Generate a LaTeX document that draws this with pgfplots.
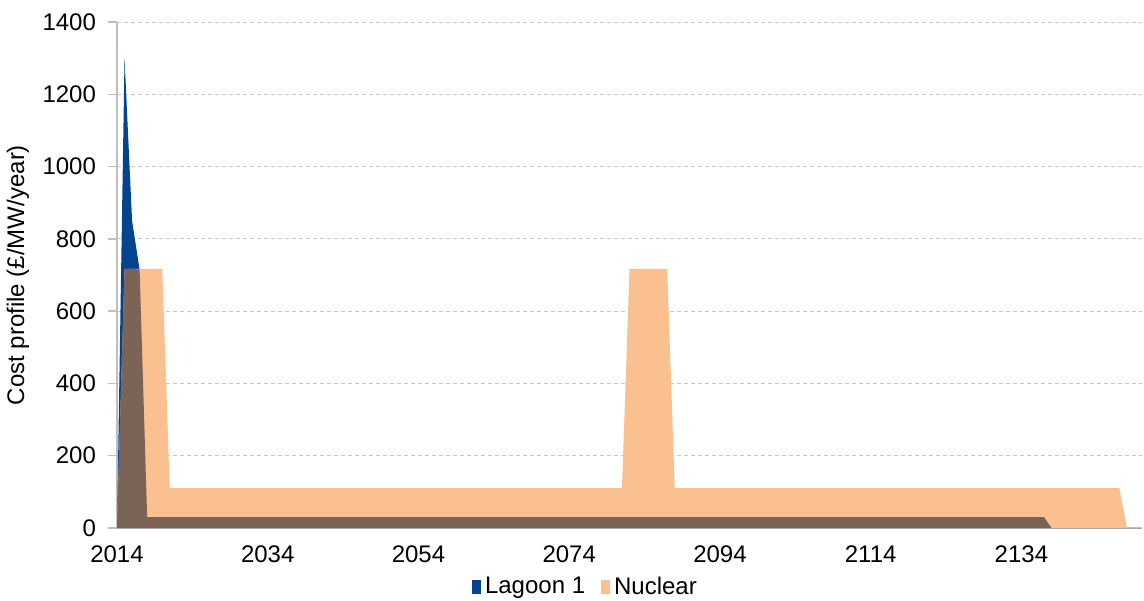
\documentclass[border=0pt]{standalone}
\usepackage{pgfplots}
\pgfplotsset{compat=1.18}
\usepackage{fontspec}
\setmainfont{Liberation Sans}
\definecolor{lagoon}{RGB}{3,68,143}
\definecolor{nuclear}{RGB}{250,192,144}
\definecolor{overlap}{RGB}{123,100,85}
\definecolor{axisgray}{RGB}{191,191,191}
\definecolor{gridgray}{RGB}{200,200,200}
\begin{document}
\begin{tikzpicture}
\path[use as bounding box] (-58.5pt,-36pt) rectangle (513.5pt,264pt);
\begin{axis}[
  at={(0pt,0pt)}, anchor=south west,
  scale only axis, width=512.5pt, height=253pt,
  xmin=2014, xmax=2150, ymin=0, ymax=1400,
  xtick={2014,2034,2054,2074,2094,2114,2134},
  ytick={0,200,400,600,800,1000,1200,1400},
  axis x line*=bottom, axis y line*=left,
  axis line style={draw=axisgray, line width=0.75pt},
  x axis line style={-}, y axis line style={-},
  ymajorgrids,
  major grid style={draw=gridgray, line width=0.5pt, dash pattern=on 2pt off 1.5pt},
  xtick style={draw=none},
  ytick style={draw=axisgray, line width=0.75pt},
  tick align=outside, major tick length=4.5pt,
  /pgf/number format/assume math mode=true,
  /pgf/number format/1000 sep={},
  tick label style={font=\fontsize{12}{14}\selectfont},
  xticklabel style={anchor=center, yshift=-8.5pt},
  yticklabel style={anchor=east, xshift=-2.5pt},
  ylabel={Cost profile (£/MW/year)},
  ylabel style={font=\fontsize{12}{14}\selectfont, at={(axis description cs:-0.0966,0.5)}, anchor=center, rotate=0},
  legend style={at={(axis description cs:0.458,-0.117)}, anchor=center, draw=none, fill=none,
    font=\fontsize{12}{14}\selectfont, legend columns=2,
    /tikz/every even column/.append style={column sep=6pt},
    inner sep=0pt, row sep=0pt},
  legend cell align=left,
]
\addplot[fill=lagoon, draw=none,
  legend image code/.code={\fill[lagoon] (0pt,-3.5pt) rectangle (4.5pt,3.5pt);}]
  coordinates {(2014,0) (2015,1300) (2016,850) (2017,715) (2018,30) (2137,30) (2138,0) (2150,0)} \closedcycle;
\addlegendentry{Lagoon 1}
\addplot[fill=nuclear, draw=none,
  legend image code/.code={\fill[nuclear] (0pt,-3.5pt) rectangle (4.5pt,3.5pt);}]
  coordinates {(2014,0) (2015,717) (2020,717) (2021,110) (2081,110) (2082,717) (2087,717) (2088,110) (2147,110) (2148,0) (2150,0)} \closedcycle;
\addlegendentry{Nuclear}
\addplot[fill=overlap, draw=none, forget plot]
  coordinates {(2014,0) (2015,717) (2016,717) (2017,715) (2018,30) (2137,30) (2138,0) (2150,0)} \closedcycle;
\end{axis}
\end{tikzpicture}
\end{document}
